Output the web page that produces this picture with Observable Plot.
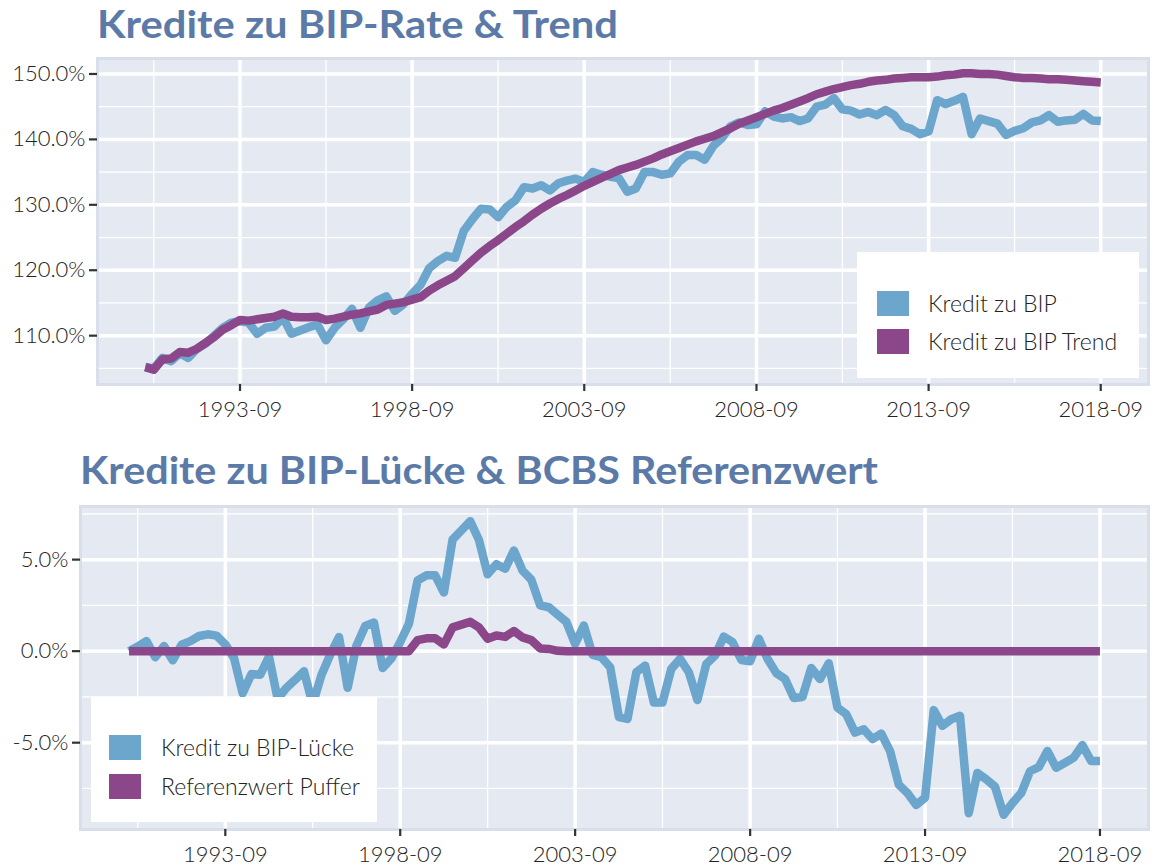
<!DOCTYPE html>
<html><head><meta charset="utf-8">
<script src="https://cdn.jsdelivr.net/npm/d3@7"></script>
<script src="https://cdn.jsdelivr.net/npm/@observablehq/plot@0.6"></script>
<style>
body{margin:0;background:#fff;font-family:Lato,"Open Sans",sans-serif;}
#wrap{position:relative;width:1153px;height:868px;overflow:hidden;background:#fff;}
#chartTop,#chartBottom,#titles{position:absolute;left:0;}
#chartTop{top:0;} #chartBottom{top:440px;} #titles{top:0;pointer-events:none;}
.legend{position:absolute;background:#fff;}
.key{position:absolute;width:32px;height:25px;}
.lt{position:absolute;font-size:23px;font-weight:300;color:#222;line-height:25px;white-space:nowrap;font-family:Lato,sans-serif;}
</style></head>
<body>
<div id="wrap">
  <div id="chartTop"></div>
  <div id="chartBottom"></div>
  <div class="legend" style="left:857px;top:252px;width:282px;height:126px;">
    <div class="key" style="left:20px;top:39px;background:#6CA6CD"></div>
    <div class="lt" style="left:71px;top:39px;">Kredit zu BIP</div>
    <div class="key" style="left:20px;top:77px;background:#8B4789"></div>
    <div class="lt" style="left:71px;top:77px;">Kredit zu BIP Trend</div>
  </div>
  <div class="legend" style="left:91px;top:697px;width:286px;height:125px;">
    <div class="key" style="left:18px;top:38px;background:#6CA6CD"></div>
    <div class="lt" style="left:70px;top:38px;">Kredit zu BIP-Lücke</div>
    <div class="key" style="left:18px;top:77px;background:#8B4789"></div>
    <div class="lt" style="left:70px;top:77px;">Referenzwert Puffer</div>
  </div>
  <svg id="titles" width="1153" height="868">
    <text x="97" y="38" font-family="Lato, sans-serif" font-weight="700" font-size="38" fill="#5B7AA8" textLength="521" lengthAdjust="spacingAndGlyphs">Kredite zu BIP-Rate &amp; Trend</text>
    <text x="80" y="484" font-family="Lato, sans-serif" font-weight="700" font-size="38" fill="#5B7AA8" textLength="798" lengthAdjust="spacingAndGlyphs">Kredite zu BIP-Lücke &amp; BCBS Referenzwert</text>
  </svg>
</div>
<script>
// ---- data (quarterly, 1990-12 .. 2018-09) ----
const firstQuarter = "1990-12";
const lastQuarter = "2018-09";
const credit = [105.2,105.0,106.6,106.1,107.3,106.6,108.0,108.8,110.0,111.2,
112.0,112.2,112.0,110.3,111.2,111.4,112.8,110.3,110.8,111.3,
111.7,109.3,111.2,112.5,114.1,111.2,114.3,115.4,116.0,113.8,
114.8,116.4,117.8,120.3,121.4,122.2,121.9,126.0,127.8,129.4,
129.3,128.1,129.7,130.7,132.7,132.5,133.0,132.2,133.3,133.7,
134.0,133.5,135.0,134.6,134.3,134.1,132.0,132.5,135.0,135.0,
134.6,134.8,136.6,137.6,137.6,136.9,139.0,140.2,142.0,142.6,
142.2,142.3,144.3,143.5,143.2,143.4,142.8,143.2,145.0,145.3,
146.3,144.6,144.4,143.8,144.2,143.7,144.5,143.7,142.0,141.6,
140.8,141.2,146.0,145.4,145.9,146.5,140.8,143.2,142.8,142.4,
140.7,141.3,141.7,142.6,142.9,143.7,142.7,142.9,143.0,143.9,
142.9,142.8];
const trend = [105.2,104.8,106.4,106.5,107.5,107.4,108.0,108.9,109.8,110.9,
111.6,112.4,112.3,112.5,112.7,112.9,113.4,112.9,112.8,112.8,
112.9,112.4,112.6,112.9,113.2,113.4,113.7,114.0,114.7,114.9,
115.1,115.5,115.9,116.9,117.7,118.4,119.1,120.3,121.5,122.7,
123.7,124.6,125.6,126.6,127.5,128.5,129.4,130.2,130.9,131.5,
132.2,132.9,133.5,134.1,134.7,135.3,135.7,136.1,136.6,137.1,
137.7,138.2,138.7,139.2,139.7,140.1,140.5,141.1,141.7,142.4,
142.9,143.4,143.9,144.4,144.8,145.3,145.8,146.3,146.9,147.3,
147.7,148.0,148.3,148.5,148.8,149.0,149.1,149.3,149.4,149.5,
149.5,149.5,149.6,149.8,149.9,150.1,150.1,150.0,150.0,149.9,
149.7,149.5,149.4,149.4,149.3,149.2,149.2,149.1,149.0,148.9,
148.8,148.7];
const gap = [0.0,0.25,0.55,-0.33,0.28,-0.5,0.35,0.55,0.83,0.92,
0.85,0.37,-0.37,-2.3,-1.25,-1.29,-0.3,-2.6,-2.0,-1.56,
-1.1,-2.9,-1.3,-0.18,0.77,-2.0,0.3,1.38,1.56,-0.92,
-0.4,0.5,1.5,3.86,4.14,4.14,3.2,6.1,6.6,7.1,
6.07,4.2,4.75,4.5,5.5,4.4,3.9,2.5,2.4,2.0,
1.6,0.4,1.4,-0.2,-0.33,-0.88,-3.6,-3.7,-1.15,-0.79,
-2.8,-2.8,-0.97,-0.42,-1.15,-2.67,-0.7,-0.24,0.8,0.5,
-0.48,-0.55,0.68,-0.42,-1.2,-1.52,-2.56,-2.5,-0.92,-1.52,
-0.66,-3.08,-3.44,-4.45,-4.27,-4.8,-4.5,-5.46,-7.3,-7.75,
-8.4,-8.0,-3.22,-4.08,-3.72,-3.53,-8.85,-6.65,-7.0,-7.4,
-8.94,-8.3,-7.75,-6.56,-6.34,-5.46,-6.37,-6.1,-5.82,-5.13,
-6.0,-6.0];
const buffer = [0,0,0,0,0,0,0,0,0,0,
0,0,0,0,0,0,0,0,0,0,
0,0,0,0,0,0,0,0,0,0,
0,0,0,0.6,0.7,0.7,0.37,1.3,1.45,1.6,
1.3,0.68,0.86,0.78,1.1,0.75,0.6,0.15,0.12,0.02,
0,0,0,0,0,0,0,0,0,0,
0,0,0,0,0,0,0,0,0,0,
0,0,0,0,0,0,0,0,0,0,
0,0,0,0,0,0,0,0,0,0,
0,0,0,0,0,0,0,0,0,0,
0,0,0,0,0,0,0,0,0,0,
0,0];
const xTickLabels = ["1993-09","1998-09","2003-09","2008-09","2013-09","2018-09"];
const xMinorLabels = ["1991-03","1996-03","2001-03","2006-03","2011-03","2016-03"];
const yTopMajor = [110,120,130,140,150];
const yTopMinor = [105,115,125,135,145];
const yBotMajor = [-5,0,5];
const yBotMinor = [-7.5,-2.5,2.5,7.5];

const BLUE = "#6CA6CD", PURPLE = "#8B4789";
const parse = d3.utcParse("%Y-%m");
const startDate = parse(firstQuarter), endDate = parse(lastQuarter);
const dates = credit.map((_, i) => d3.utcMonth.offset(startDate, 3 * i));
const topData = dates.map((d, i) => ({date: d, credit: credit[i], trend: trend[i]}));
const botData = dates.map((d, i) => ({date: d, gap: gap[i], buffer: buffer[i]}));
const xMajor = xTickLabels.map(parse);
const xMinor = xMinorLabels.map(parse);

function expand([a, b], f = 0.05) { const s = b - a; return [a - s * f, b + s * f]; }
const xDomain = expand([+startDate, +endDate]).map(v => new Date(v));
const yTopDomain = expand(d3.extent([...credit, ...trend]));
const yBotDomain = expand(d3.extent([...gap, ...buffer]));

const PANEL = "#E5EAF2";
const common = {
  width: 1153,
  style: {background: "transparent", fontFamily: "Lato, sans-serif", fontSize: "22px", fontWeight: 300, color: "#222"}
};
function gridMarks(xMaj, xMin, yMaj, yMin) {
  return [
    Plot.frame({fill: PANEL}),
    Plot.ruleY(yMin, {stroke: "white", strokeWidth: 1.3}),
    Plot.ruleX(xMin, {stroke: "white", strokeWidth: 1.3}),
    Plot.ruleY(yMaj, {stroke: "white", strokeWidth: 3.5}),
    Plot.ruleX(xMaj, {stroke: "white", strokeWidth: 3.5}),
    Plot.frame({stroke: "#D8DFEA", strokeWidth: 3})
  ];
}

const topPlot = Plot.plot({
  ...common,
  height: 430, marginLeft: 97, marginRight: 5, marginTop: 58, marginBottom: 46,
  x: {type: "utc", domain: xDomain},
  y: {domain: yTopDomain},
  marks: [
    ...gridMarks(xMajor, xMinor, yTopMajor, yTopMinor),
    Plot.line(topData, {x: "date", y: "credit", stroke: BLUE, strokeWidth: 8.5, strokeLinecap: "butt", strokeLinejoin: "round"}),
    Plot.line(topData, {x: "date", y: "trend", stroke: PURPLE, strokeWidth: 8.5, strokeLinecap: "butt", strokeLinejoin: "round"}),
    Plot.axisX({ticks: xMajor, tickFormat: d3.utcFormat("%Y-%m"), tickSize: 7, tickPadding: 10, stroke: "#333", strokeWidth: 2.2, fill: "#222", label: null}),
    Plot.axisY({ticks: yTopMajor, tickFormat: d => d.toFixed(1) + "%", tickSize: 8, tickPadding: 4, stroke: "#333", strokeWidth: 2.2, fill: "#222", label: null})
  ]
});
document.getElementById("chartTop").appendChild(topPlot);

const botPlot = Plot.plot({
  ...common,
  height: 428, marginLeft: 80, marginRight: 5, marginTop: 66, marginBottom: 39,
  x: {type: "utc", domain: xDomain},
  y: {domain: yBotDomain},
  marks: [
    ...gridMarks(xMajor, xMinor, yBotMajor, yBotMinor),
    Plot.line(botData, {x: "date", y: "gap", stroke: BLUE, strokeWidth: 8.5, strokeLinecap: "butt", strokeLinejoin: "round"}),
    Plot.line(botData, {x: "date", y: "buffer", stroke: PURPLE, strokeWidth: 8.5, strokeLinecap: "butt", strokeLinejoin: "round"}),
    Plot.axisX({ticks: xMajor, tickFormat: d3.utcFormat("%Y-%m"), tickSize: 7, tickPadding: 10, stroke: "#333", strokeWidth: 2.2, fill: "#222", label: null}),
    Plot.axisY({ticks: yBotMajor, tickFormat: d => d.toFixed(1) + "%", tickSize: 8, tickPadding: 4, stroke: "#333", strokeWidth: 2.2, fill: "#222", label: null})
  ]
});
document.getElementById("chartBottom").appendChild(botPlot);
</script>
</body></html>
